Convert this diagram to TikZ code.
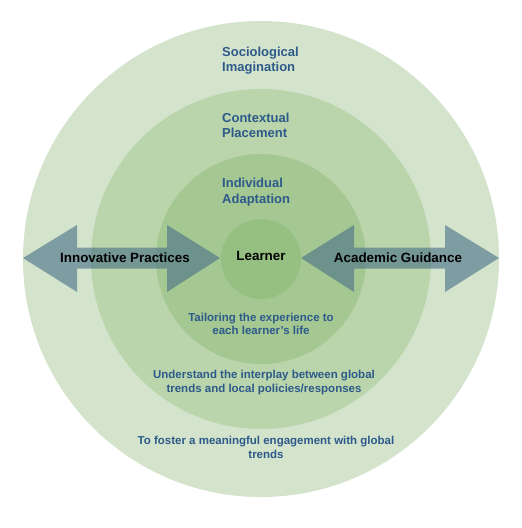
\documentclass[tikz,border=0pt]{standalone}
\usepackage{fontspec}
\setmainfont{Liberation Sans}
\definecolor{ringA}{HTML}{D4E4CC}
\definecolor{ringB}{HTML}{BAD5AB}
\definecolor{ringC}{HTML}{A5C893}
\definecolor{ringD}{HTML}{96C082}
\definecolor{arrowc}{HTML}{466E86}
\definecolor{bluetxt}{HTML}{2D5A8A}
\tikzset{
  ring/.style={fill=#1, draw=none},
  bigarrow/.style={fill=arrowc, fill opacity=0.6, draw=none},
  head/.style={font=\bfseries\fontsize{13}{15.5}\selectfont, text=bluetxt, align=left, inner sep=0pt},
  note/.style={font=\bfseries\fontsize{11.5}{13.5}\selectfont, text=bluetxt, align=center, inner sep=0pt},
  arrowlabel/.style={font=\bfseries\fontsize{13.4}{15}\selectfont, text=black, inner sep=0pt}
}
\begin{document}
\begin{tikzpicture}[x=1pt,y=-1pt]
\useasboundingbox (0,0) rectangle (522,528);
\fill[white] (0,0) rectangle (522,528);
\coordinate (c) at (261,259);
\fill[ring=ringA] (c) circle (238);
\fill[ring=ringB] (c) circle (170);
\fill[ring=ringC] (c) circle (105);
\node[circle, fill=ringD, minimum size=80pt, inner sep=0pt] (learner) at (c) {};
\node[arrowlabel] (learnertxt) at (261,256) {Learner};
% left double arrow
\fill[bigarrow] (23,258) -- (77,225) -- (77,247.5) -- (167,247.5) -- (167,225) -- (220,258)
  -- (167,292) -- (167,268.5) -- (77,268.5) -- (77,292) -- cycle;
% right double arrow
\fill[bigarrow] (301,258) -- (354,225) -- (354,247.5) -- (445,247.5) -- (445,225) -- (499,258)
  -- (445,292) -- (445,268.5) -- (354,268.5) -- (354,292) -- cycle;
\node[arrowlabel] (innov) at (125,258) {Innovative Practices};
\node[arrowlabel] (acad) at (398,258) {Academic Guidance};
% ring titles
\node[head, anchor=west] (socio) at (222,60.5) {Sociological\\Imagination};
\node[head, anchor=west] (context) at (222,125.5) {Contextual\\Placement};
\node[head, anchor=west] (indiv) at (222,192) {Individual\\Adaptation};
% descriptions
\node[note] (tailor) at (261,324) {Tailoring the experience to\\each learner’s life};
\node[note] (under) at (264,382.5) {Understand the interplay between global\\trends and local policies/responses};
\node[note] (foster) at (266,447.5) {To foster a meaningful engagement with global\\trends};
\end{tikzpicture}
\end{document}
